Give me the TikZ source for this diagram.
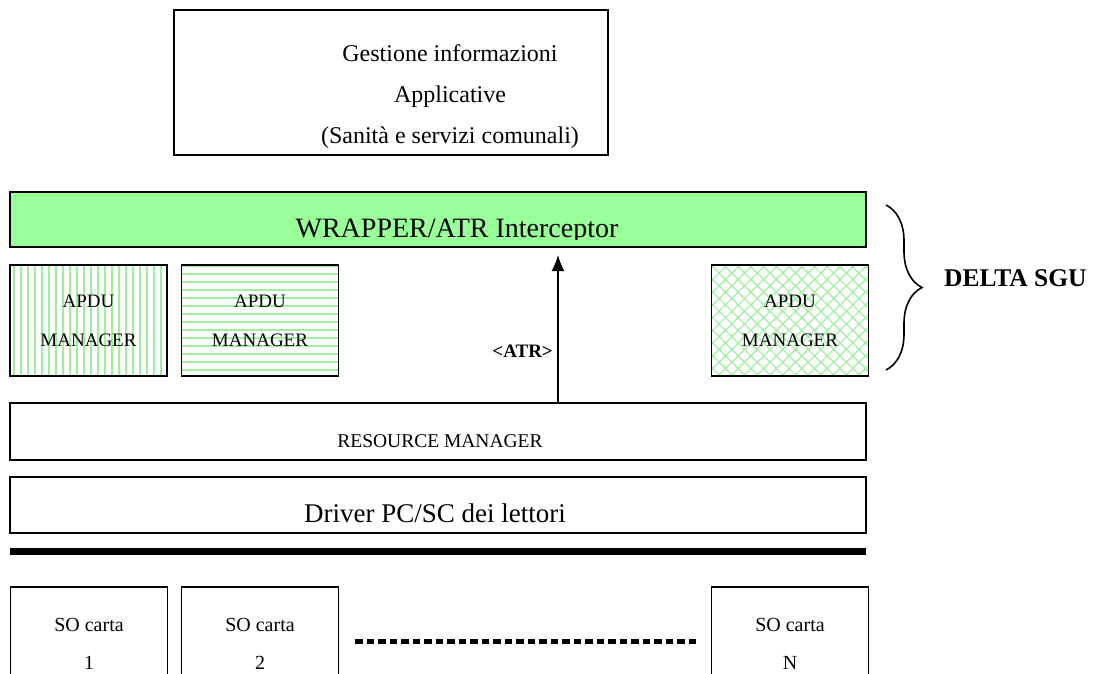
\documentclass[tikz,border=0pt]{standalone}
\usepackage{fontspec}
\setmainfont{Liberation Serif}
\usetikzlibrary{arrows.meta,patterns.meta,decorations.pathreplacing}

\definecolor{wrapgreen}{RGB}{153,255,153}
\definecolor{hatchgreen}{RGB}{160,238,160}

\begin{document}
\begin{tikzpicture}[
  x=1pt,y=1pt,
  >={Latex[length=16pt,width=13pt]},
  layer/.style={rectangle,draw,line width=1.8pt,inner sep=0pt},
  wide layer/.style={layer,minimum width=856pt},
  apdu box/.style={layer,minimum width=157pt,minimum height=111pt,align=center,font=\fontsize{19}{39}\selectfont},
  card box/.style={layer,minimum width=157pt,minimum height=113pt,align=center,font=\fontsize{20}{38}\selectfont},
  vert hatch/.style={pattern={Lines[angle=90,distance=7pt,line width=2pt]},pattern color=hatchgreen},
  horiz hatch/.style={pattern={Lines[angle=0,distance=8pt,line width=2pt]},pattern color=hatchgreen},
  cross hatch/.style={pattern={Hatch[angle=45,distance=9pt,line width=1.2pt]},pattern color=hatchgreen},
  layer text/.style={anchor=base,inner sep=0pt},
]
\useasboundingbox (0,0) rectangle (1108,-674);

% applications on top
\node[layer,line width=1.5pt,minimum width=434pt,minimum height=145pt] (apps) at (391,-82.5) {};
\begin{scope}
  \clip (apps.south west) rectangle (apps.north east);
  \node[align=center,font=\fontsize{24}{41}\selectfont,inner sep=0pt] (appstext) at (450,-97) {Gestione informazioni\\Applicative\\(Sanità e servizi comunali)};
\end{scope}

% wrapper layer
\node[wide layer,fill=wrapgreen,minimum height=55pt] (wrap) at (438,-219.5) {};
\begin{scope}
  \clip (10,-192) rectangle (866,-239);
  \node[layer text,font=\fontsize{28}{30}\selectfont] (wraptext) at (457,-237) {WRAPPER/ATR Interceptor};
\end{scope}

% apdu managers
\node[apdu box,vert hatch] (apdu1) at (88.5,-320.5) {APDU\\MANAGER};
\node[apdu box,horiz hatch] (apdu2) at (260,-320.5) {APDU\\MANAGER};
\node[apdu box,cross hatch] (apduN) at (790,-320.5) {APDU\\MANAGER};

% resource manager and drivers
\node[wide layer,minimum height=57pt] (rm) at (438,-431.5) {};
\node[layer text,font=\fontsize{19.5}{20}\selectfont] (rmtext) at (440,-447) {RESOURCE MANAGER};
\node[wide layer,minimum height=56pt] (drv) at (438,-505) {};
\node[layer text,font=\fontsize{27}{30}\selectfont] (drvtext) at (435,-522) {Driver PC/SC dei lettori};

% ATR going up
\coordinate (atrtip) at (558,-255);
\draw[->,line width=1.5pt] (rm.north -| atrtip) -- (atrtip);
\node[anchor=base east,inner sep=0pt,font=\bfseries\fontsize{19}{20}\selectfont] (atr) at (553,-357) {<ATR>};

% bus line
\coordinate (bus-l) at (10,-551);
\coordinate (bus-r) at (866,-551);
\draw[line width=7pt] (bus-l) -- (bus-r);

% card operating systems
\node[card box] (so1) at (89,-643.5) {SO carta\\1};
\node[card box] (so2) at (260,-643.5) {SO carta\\2};
\node[card box] (soN) at (790,-643.5) {SO carta\\N};
\coordinate (dots-l) at (355,-641);
\coordinate (dots-r) at (697,-641);
\draw[line width=5pt,dash pattern=on 7.5pt off 4pt] (dots-l) -- (dots-r);

% brace round the delta part
\coordinate (br-top) at (886,-205);
\coordinate (br-bot) at (886,-370);
\draw[decorate,decoration={brace,amplitude=36pt,aspect=0.5},line width=1.6pt] (br-top) -- (br-bot);
\node[anchor=base west,inner sep=0pt,font=\bfseries\fontsize{25.5}{28}\selectfont] (delta) at (944,-286) {DELTA SGU};
\end{tikzpicture}
\end{document}
